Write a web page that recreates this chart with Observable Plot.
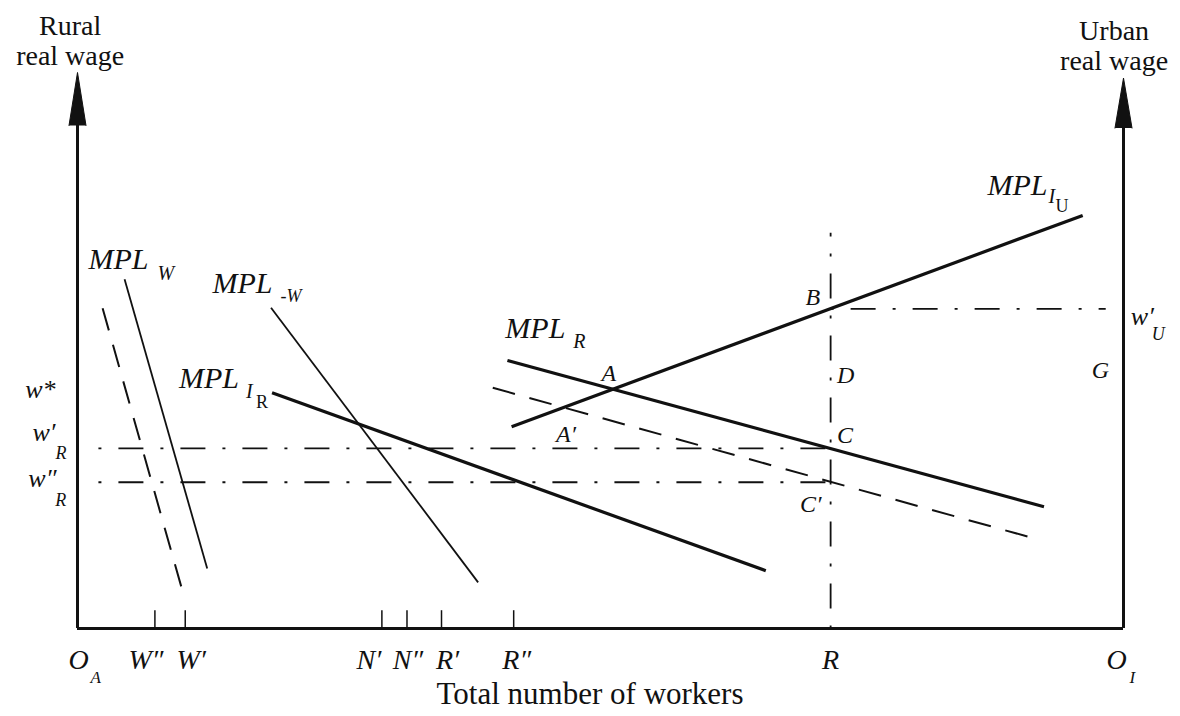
<!DOCTYPE html>
<html>
<head>
<meta charset="utf-8">
<script src="https://cdn.jsdelivr.net/npm/d3@7"></script>
<script src="https://cdn.jsdelivr.net/npm/@observablehq/plot@0.6"></script>
<style>
  html, body { margin: 0; padding: 0; background: #fff; }
  #chart svg { display: block; }
</style>
</head>
<body>
<div id="chart"></div>
<script>
// Workers are measured from O_A (0) to O_I (100); wages from 0 to 100 on both vertical axes.

// Marked worker allocations on the horizontal axis
const tickNames = ["W″", "W′", "N′", "N″", "R′", "R″", "R"];
const tickValues = [7.4, 10.3, 29.1, 31.5, 34.8, 41.7, 72.0];

// Wage levels drawn as dash-dot guides
const wageRuralHigh = 32.4;   // w′_R
const wageRuralLow = 26.3;    // w″_R
const wageUrban = 57.5;       // w′_U
const wageStar = 41.5;        // w*

// Marginal product of labour schedules, each a straight segment
const curveNames = ["MPL_W", "MPL_W shifted", "MPL_-W", "MPL_IR", "MPL_R", "MPL_R shifted", "MPL_IU"];
const curveStartX = [4.5, 2.4, 18.5, 18.6, 41.1, 39.7, 41.5];
const curveStartY = [62.8, 57.6, 57.7, 42.4, 48.2, 43.3, 36.3];
const curveEndX = [12.4, 10.3, 38.3, 65.8, 92.4, 90.9, 96.1];
const curveEndY = [10.8, 5.0, 8.3, 10.4, 21.9, 16.5, 74.3];

// Letters marking equilibrium points
const pointNames = ["A", "A′", "B", "C", "C′", "D", "G"];
const pointX = [50.8, 46.7, 70.3, 72.6, 70.1, 72.6, 97.8];
const pointY = [44.6, 33.6, 58.1, 33.3, 21.0, 44.2, 45.0];

const serif = "'Liberation Serif', 'Times New Roman', Times, serif";
const ink = "#111";

const curves = curveNames.map((name, i) => ({
  name,
  x1: curveStartX[i], y1: curveStartY[i],
  x2: curveEndX[i], y2: curveEndY[i]
}));
const thick = new Set(["MPL_IR", "MPL_R", "MPL_IU"]);
const thin = new Set(["MPL_W", "MPL_-W"]);
const dashed = new Set(["MPL_W shifted", "MPL_R shifted"]);

const points = pointNames.map((t, i) => ({t, x: pointX[i], y: pointY[i]}));
const ticks = tickNames.map((t, i) => ({t, x: tickValues[i]}));

// small sideways nudges so crowded tick labels stay legible (pixels)
const tickLabelNudge = {"W″": -9, "W′": 6, "N′": -13, "N″": 1, "R′": 6, "R″": 3, "R": 0};

const dashDot = "3 17 25 17";
const R = tickValues[tickNames.indexOf("R")];

// A label built from a main text and raised/lowered pieces, offsets in pixels
function compound(x, y, parts) {
  return parts.map(p => Plot.text([{x, y, t: p.text}], {
    x: "x", y: "y", text: "t",
    dx: p.dx ?? 0, dy: p.dy ?? 0,
    fontSize: p.size,
    fontStyle: p.italic === false ? "normal" : "italic",
    fontFamily: serif,
    textAnchor: p.anchor ?? "start",
    lineAnchor: "bottom",
    fill: ink
  }));
}

// two-line axis title: first line raised above the second by `gap` pixels
function title(x, y, lines, size, gap) {
  return lines.map((t, i) => Plot.text([t], {
    x: () => x, y: () => y, text: d => d,
    dy: -(lines.length - 1 - i) * gap,
    fontSize: size, fontFamily: serif,
    textAnchor: "middle", lineAnchor: "bottom", fill: ink
  }));
}

const chart = Plot.plot({
  width: 1180,
  height: 716,
  marginLeft: 77,
  marginRight: 57,
  marginTop: 72,
  marginBottom: 88,
  x: {domain: [0, 100], axis: null},
  y: {domain: [0, 100], axis: null},
  style: {fontFamily: serif, background: "#fff", color: ink},
  marks: [
    // dash-dot guides
    Plot.link([wageRuralHigh, wageRuralLow], {x1: 2.0, x2: R, y1: d => d, y2: d => d, stroke: ink, strokeWidth: 1.8, strokeDasharray: dashDot}),
    Plot.link([wageUrban], {x1: R, x2: 98.3, y1: d => d, y2: d => d, stroke: ink, strokeWidth: 1.8, strokeDasharray: dashDot}),
    Plot.link([R], {x1: d => d, x2: d => d, y1: 0, y2: 71.2, stroke: ink, strokeWidth: 1.8, strokeDasharray: dashDot}),

    // schedules
    Plot.link(curves.filter(d => thick.has(d.name)), {x1: "x1", y1: "y1", x2: "x2", y2: "y2", stroke: ink, strokeWidth: 3.2}),
    Plot.link(curves.filter(d => thin.has(d.name)), {x1: "x1", y1: "y1", x2: "x2", y2: "y2", stroke: ink, strokeWidth: 1.8}),
    Plot.link(curves.filter(d => dashed.has(d.name)), {x1: "x1", y1: "y1", x2: "x2", y2: "y2", stroke: ink, strokeWidth: 2, strokeDasharray: "23 15"}),

    // axes
    Plot.ruleY([0], {x1: 0, x2: 100, stroke: ink, strokeWidth: 3}),
    Plot.ruleX([0], {y1: 0, y2: 91, stroke: ink, strokeWidth: 3}),
    Plot.ruleX([100], {y1: 0, y2: 90, stroke: ink, strokeWidth: 3}),
    Plot.vector([{x: 0, y: 100}], {x: "x", y: "y", length: 53, r: 8.5, shape: "spike", anchor: "end", fill: ink, stroke: ink, strokeWidth: 1}),
    Plot.vector([{x: 100, y: 99}], {x: "x", y: "y", length: 50, r: 8.5, shape: "spike", anchor: "end", fill: ink, stroke: ink, strokeWidth: 1}),

    // tick marks on the worker axis
    Plot.ruleX(ticks.filter(d => d.t !== "R"), {x: "x", y1: 0, y2: 3.2, stroke: ink, strokeWidth: 1.5}),

    // tick labels
    ...ticks.map(d => Plot.text([d], {x: "x", y: -7.2, text: "t", dx: tickLabelNudge[d.t], fontSize: 28, fontStyle: "italic", fontFamily: serif, textAnchor: "middle", lineAnchor: "bottom", fill: ink})),
    ...compound(0, -7.2, [{text: "O", size: 28, dx: -9}, {text: "A", size: 17, dx: 13, dy: 14}]),
    ...compound(100, -7.2, [{text: "O", size: 28, dx: -17}, {text: "I", size: 17, dx: 6, dy: 14}]),

    // point letters
    Plot.text(points.filter(d => !["C", "D"].includes(d.t)), {x: "x", y: "y", text: "t", fontSize: 24, fontStyle: "italic", fontFamily: serif, textAnchor: "middle", lineAnchor: "bottom", fill: ink}),
    Plot.text(points.filter(d => ["C", "D"].includes(d.t)), {x: "x", y: "y", text: "t", fontSize: 24, fontStyle: "italic", fontFamily: serif, textAnchor: "start", lineAnchor: "bottom", fill: ink}),

    // schedule names
    ...compound(1.05, 64.7, [{text: "MPL", size: 30}, {text: "W", size: 20, dx: 69, dy: 11}]),
    ...compound(12.9, 60.3, [{text: "MPL", size: 30}, {text: "-W", size: 18, dx: 68, dy: 9}]),
    ...compound(9.7, 43.2, [{text: "MPL", size: 30}, {text: "I", size: 20, dx: 67, dy: 10}, {text: "R", size: 18, italic: false, dx: 77, dy: 20}]),
    ...compound(40.9, 52.2, [{text: "MPL", size: 30}, {text: "R", size: 20, dx: 68, dy: 10}]),
    ...compound(87.0, 77.9, [{text: "MPL", size: 30}, {text: "I", size: 20, dx: 61, dy: 8}, {text: "U", size: 18, italic: false, dx: 68, dy: 17}]),

    // wage labels
    ...compound(-5.0, wageStar, [{text: "w*", size: 26}]),
    ...compound(-4.3, 33.8, [{text: "w′", size: 26}, {text: "R", size: 18, dx: 23, dy: 18}]),
    ...compound(-4.7, 25.4, [{text: "w″", size: 26}, {text: "R", size: 18, dx: 27, dy: 19}]),
    ...compound(100.7, 54.5, [{text: "w′", size: 26}, {text: "U", size: 18, dx: 21, dy: 15}]),

    // axis titles
    ...title(-0.7, 101.4, ["Rural", "real wage"], 28, 30),
    ...title(99.1, 100.5, ["Urban", "real wage"], 28, 30),
    Plot.text(["Total number of workers"], {x: 49.0, y: -13.5, text: d => d, fontSize: 31, fontFamily: serif, textAnchor: "middle", lineAnchor: "bottom", fill: ink})
  ]
});

document.getElementById("chart").appendChild(chart);
</script>
</body>
</html>
